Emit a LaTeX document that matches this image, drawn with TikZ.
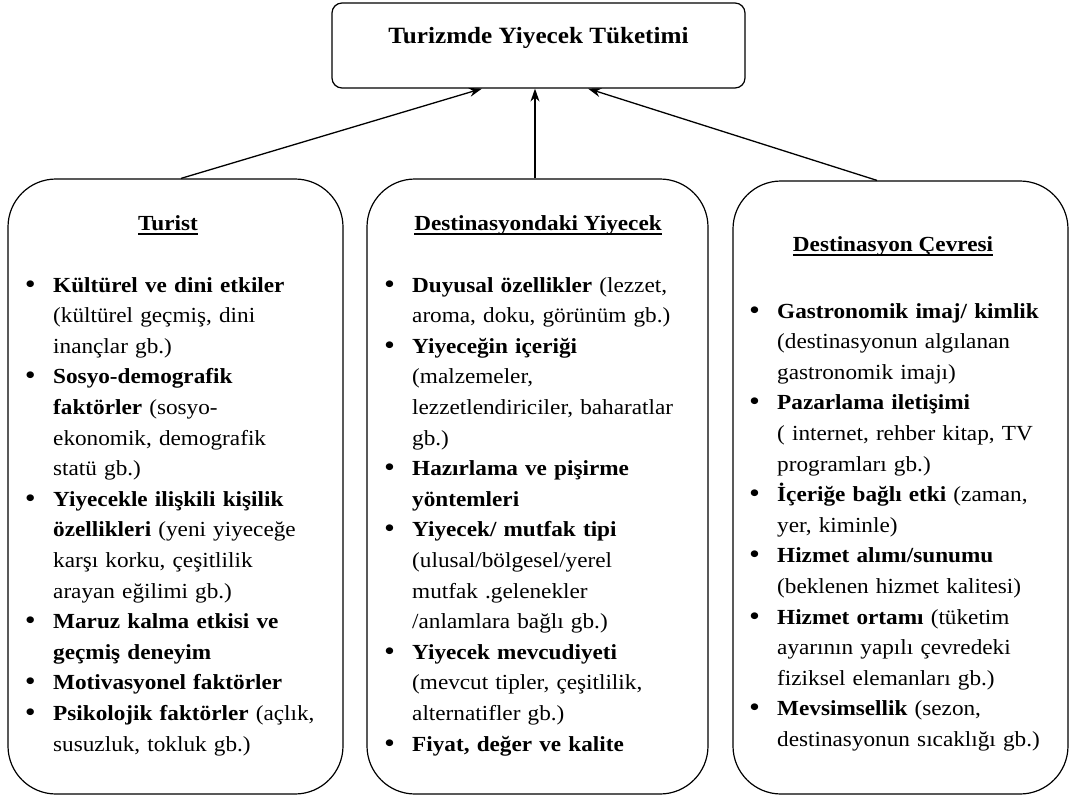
\documentclass[tikz,border=0pt]{standalone}
\usepackage{fontspec}
\setmainfont{Liberation Serif}[FakeStretch=1.08]
\usetikzlibrary{arrows.meta}
\newcommand\bul{\leavevmode\llap{{\bfseries\fontsize{25}{30}\selectfont\textbullet}\hspace{18pt}}}
\newcommand\myul[1]{\setbox0\hbox{#1}\rlap{\rule[-4.5pt]{\wd0}{1.3pt}}\box0}
\begin{document}
\begin{tikzpicture}[x=1pt,y=-1pt,
  bigbox/.style={draw, line width=1.2pt, rounded corners=48pt, inner sep=0pt},
  topbox/.style={draw, line width=1.2pt, rounded corners=10pt, inner sep=0pt},
  colt/.style={anchor=base west, inner sep=0pt, text width=330pt, align=left,
    font=\fontsize{21.5}{30.6}\selectfont},
  ttl/.style={anchor=base, inner sep=0pt, font=\bfseries\fontsize{21.5}{26}\selectfont},
  arr/.style={line width=1.3pt, -{Stealth[length=13pt,width=9pt]}}]
\useasboundingbox (0,0) rectangle (1072,798);
% boxes
\node[topbox, minimum width=413pt, minimum height=85pt] (top) at (538.5,45.5) {};
\node[bigbox, minimum width=335pt, minimum height=615pt] (turist) at (175.5,486.5) {};
\node[bigbox, minimum width=341pt, minimum height=615pt] (yiyecek) at (537.5,486.5) {};
\node[bigbox, minimum width=335pt, minimum height=613pt] (cevre) at (900.5,487.5) {};
% titles
\node[ttl, font=\bfseries\fontsize{23.3}{28}\selectfont] (toptitle) at (538.5,43) {Turizmde Yiyecek Tüketimi};
\node[ttl] (t1) at (168,230) {\myul{Turist}};
\node[ttl] (t2) at (538,230) {\myul{Destinasyondaki Yiyecek}};
\node[ttl] (t3) at (893,251) {\myul{Destinasyon Çevresi}};
% column texts
\node[colt] (c1) at (53,292) {%
\bul\textbf{Kültürel ve dini etkiler}\\
(kültürel geçmiş, dini\\
inançlar gb.)\\
\bul\textbf{Sosyo-demografik}\\
\textbf{faktörler} (sosyo-\\
ekonomik, demografik\\
statü gb.)\\
\bul\textbf{Yiyecekle ilişkili kişilik}\\
\textbf{özellikleri} (yeni yiyeceğe\\
karşı korku, çeşitlilik\\
arayan eğilimi gb.)\\
\bul\textbf{Maruz kalma etkisi ve}\\
\textbf{geçmiş deneyim}\\
\bul\textbf{Motivasyonel faktörler}\\
\bul\textbf{Psikolojik faktörler} (açlık,\\
susuzluk, tokluk gb.)};
\node[colt] (c2) at (412,292) {%
\bul\textbf{Duyusal özellikler} (lezzet,\\
aroma, doku, görünüm gb.)\\
\bul\textbf{Yiyeceğin içeriği}\\
(malzemeler,\\
lezzetlendiriciler, baharatlar\\
gb.)\\
\bul\textbf{Hazırlama ve pişirme}\\
\textbf{yöntemleri}\\
\bul\textbf{Yiyecek/ mutfak tipi}\\
(ulusal/bölgesel/yerel\\
mutfak .gelenekler\\
/anlamlara bağlı gb.)\\
\bul\textbf{Yiyecek mevcudiyeti}\\
(mevcut tipler, çeşitlilik,\\
alternatifler gb.)\\
\bul\textbf{Fiyat, değer ve kalite}};
\node[colt] (c3) at (777,318) {%
\bul\textbf{Gastronomik imaj/ kimlik}\\
(destinasyonun algılanan\\
gastronomik imajı)\\
\bul\textbf{Pazarlama iletişimi}\\
( internet, rehber kitap, TV\\
programları gb.)\\
\bul\textbf{İçeriğe bağlı etki} (zaman,\\
yer, kiminle)\\
\bul\textbf{Hizmet alımı/sunumu}\\
(beklenen hizmet kalitesi)\\
\bul\textbf{Hizmet ortamı} (tüketim\\
ayarının yapılı çevredeki\\
fiziksel elemanları gb.)\\
\bul\textbf{Mevsimsellik} (sezon,\\
destinasyonun sıcaklığı gb.)};
% connectors
\draw[arr] ([xshift=5.5pt]turist.north) -- ([xshift=-56.5pt]top.south);
\draw[arr] ([xshift=-2.5pt]yiyecek.north) -- ([xshift=-3.5pt]top.south);
\draw[arr] ([xshift=-23.5pt]cevre.north) -- ([xshift=49.5pt]top.south);
\end{tikzpicture}
\end{document}
